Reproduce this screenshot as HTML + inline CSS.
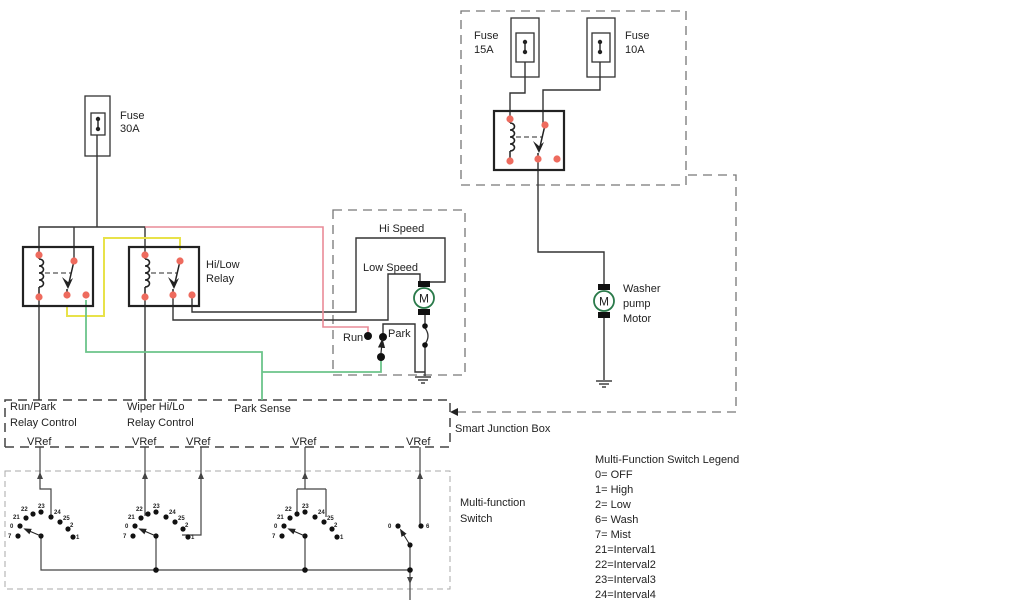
<!DOCTYPE html>
<html><head><style>
html,body{margin:0;padding:0;background:#fff;}
svg{display:block;font-family:"Liberation Sans",sans-serif;}
text{font-size:11px;fill:#222;}
</style></head><body>
<svg width="1024" height="600" viewBox="0 0 1024 600" xmlns="http://www.w3.org/2000/svg">
<defs>
<marker id="ar" markerWidth="8" markerHeight="8" refX="4" refY="4" orient="auto"><path d="M0,1 L8,4 L0,7z" fill="#222"/></marker>
<g id="relay">
<rect x="0" y="0" width="70" height="59" fill="none" stroke="#222" stroke-width="2.2"/>
<path d="M16,12 c6,0 6,7 0,7 c6,0 6,7 0,7 c6,0 6,7 0,7 c6,0 6,7 0,7" fill="none" stroke="#222" stroke-width="1.6"/>
<line x1="16" y1="8" x2="16" y2="12" stroke="#222" stroke-width="1.5"/>
<line x1="16" y1="40" x2="16" y2="50" stroke="#222" stroke-width="1.5"/>
<line x1="22" y1="26" x2="48" y2="26" stroke="#555" stroke-width="1.3" stroke-dasharray="5,3"/>
<line x1="51" y1="14" x2="45" y2="40" stroke="#222" stroke-width="1.5"/>
<path d="M39,30 L45,42 L50,31 L45,35z" fill="#222"/>
<line x1="44" y1="42" x2="44" y2="48" stroke="#222" stroke-width="1.5"/>
<circle cx="16" cy="8" r="3.6" fill="#ee6b5e"/><circle cx="16" cy="50" r="3.6" fill="#ee6b5e"/>
<circle cx="51" cy="14" r="3.6" fill="#ee6b5e"/><circle cx="44" cy="48" r="3.6" fill="#ee6b5e"/>
<circle cx="63" cy="48" r="3.6" fill="#ee6b5e"/>
</g>
<g id="fuse">
<line x1="0" y1="-5" x2="0" y2="5" stroke="#222" stroke-width="1.4"/>
<circle cx="0" cy="-5" r="2.2" fill="#222"/><circle cx="0" cy="5" r="2.2" fill="#222"/>
</g>
<g id="motor">
<rect x="-6" y="-17" width="12" height="6" fill="#111"/>
<rect x="-6" y="11" width="12" height="6" fill="#111"/>
<circle cx="0" cy="0" r="10" fill="#fff" stroke="#2a7a4a" stroke-width="1.8"/>
<text x="0" y="4.5" text-anchor="middle" style="font-size:12px">M</text>
</g>
<g id="msw" fill="#111">
<circle cx="-23" cy="0" r="2.6"/><circle cx="-21" cy="-10" r="2.6"/><circle cx="-15" cy="-18" r="2.6"/>
<circle cx="-8" cy="-22" r="2.6"/><circle cx="0" cy="-24" r="2.6"/><circle cx="10" cy="-19" r="2.6"/>
<circle cx="19" cy="-14" r="2.6"/><circle cx="27" cy="-7" r="2.6"/><circle cx="32" cy="1" r="2.6"/>
<circle cx="0" cy="0" r="2.6"/>
<line x1="0" y1="0" x2="-14" y2="-6" stroke="#222" stroke-width="1" marker-end="url(#ar)"/>
<g style="font-size:6px;font-weight:bold">
<text x="-33" y="2" style="font-size:6px">7</text><text x="-31" y="-8" style="font-size:6px">0</text>
<text x="-28" y="-17" style="font-size:6px">21</text><text x="-20" y="-25" style="font-size:6px">22</text>
<text x="-3" y="-28" style="font-size:6px">23</text><text x="13" y="-22" style="font-size:6px">24</text>
<text x="22" y="-16" style="font-size:6px">25</text><text x="29" y="-9" style="font-size:6px">2</text>
<text x="35" y="3" style="font-size:6px">1</text>
</g>
</g>
</defs>

<g fill="none" stroke="#777" stroke-width="1.3" stroke-dasharray="9,6">
<rect x="461" y="11" width="225" height="174"/>
<path d="M688,175 H736 V412 H456"/>
<rect x="333" y="210" width="132" height="165"/>
<path d="M5,447 V400 H450 V447 H5" stroke="#444" stroke-width="1.5"/>
</g>
<path d="M458,408 L450,412 L458,416z" fill="#222"/>
<rect x="5" y="471" width="445" height="118" fill="none" stroke="#aaa" stroke-width="1" stroke-dasharray="6,4"/>

<g fill="none" stroke="#333" stroke-width="1.3">
<rect x="85" y="96" width="25" height="60"/><rect x="91" y="113" width="14" height="22"/>
<rect x="511" y="18" width="28" height="59"/><rect x="516" y="33" width="18" height="29"/>
<rect x="587" y="18" width="28" height="59"/><rect x="592" y="33" width="18" height="29"/>
</g>
<use href="#fuse" x="98" y="124"/><use href="#fuse" x="525" y="47"/><use href="#fuse" x="600" y="47"/>

<g fill="none" stroke="#333" stroke-width="1.4">
<path d="M97,135 V227 M39,255 V227 H145 V255 M74,261 V227"/>
<path d="M39,297 V400 M145,297 V400"/>
<path d="M192,295 V312 H356 V238 H445 V282 H428"/>
<path d="M173,295 V320 H388 V274 H420 V282"/>
<path d="M425,310 V326 M425,345 V372 M383,337 V324 H415 V372 H425 M425,372 V376"/>
<path d="M525,62 V93 H510 V119 M600,62 V90 H543 V124 M538,158 V252 H604 V290 M604,312 V380"/>
</g>
<path d="M425,328 q6,8 0,16" fill="none" stroke="#333" stroke-width="1.3"/>
<g stroke="#333" stroke-width="1.4">
<line x1="415" y1="377" x2="431" y2="377"/><line x1="418" y1="380" x2="428" y2="380"/><line x1="421" y1="383" x2="425" y2="383"/>
<line x1="596" y1="381" x2="612" y2="381"/><line x1="599" y1="384" x2="609" y2="384"/><line x1="602" y1="387" x2="606" y2="387"/>
</g>
<path d="M67,306 V316 H104 V238 H180 V250" fill="none" stroke="#e8e24a" stroke-width="2"/>
<path d="M145,227 H323 V327 H368 V333" fill="none" stroke="#e98b97" stroke-width="1.6"/>
<path d="M86,300 V352 H262 V400 M262,372 H381 V360" fill="none" stroke="#6cc48a" stroke-width="1.8"/>

<use href="#relay" x="23" y="247"/><use href="#relay" x="129" y="247"/><use href="#relay" x="494" y="111"/>
<use href="#motor" x="424" y="298"/><use href="#motor" x="604" y="301"/>

<circle cx="368" cy="336" r="4" fill="#111"/><circle cx="383" cy="337" r="4" fill="#111"/><circle cx="381" cy="357" r="4" fill="#111"/>
<line x1="381" y1="353" x2="382" y2="343" stroke="#222" stroke-width="1.2" marker-end="url(#ar)"/>
<circle cx="425" cy="326" r="2.8" fill="#111"/><circle cx="425" cy="345" r="2.8" fill="#111"/>

<text x="120" y="119">Fuse</text><text x="120" y="132">30A</text>
<text x="474" y="39">Fuse</text><text x="474" y="53">15A</text>
<text x="625" y="39">Fuse</text><text x="625" y="53">10A</text>
<text x="206" y="268">Hi/Low</text><text x="206" y="282">Relay</text>
<text x="379" y="232">Hi Speed</text><text x="363" y="271">Low Speed</text>
<text x="343" y="341">Run</text><text x="388" y="337">Park</text>
<text x="623" y="292">Washer</text><text x="623" y="307">pump</text><text x="623" y="322">Motor</text>
<text x="10" y="410">Run/Park</text><text x="10" y="426">Relay Control</text>
<text x="127" y="410">Wiper Hi/Lo</text><text x="127" y="426">Relay Control</text>
<text x="234" y="412">Park Sense</text>
<text x="455" y="432">Smart Junction Box</text>
<text x="27" y="445">VRef</text><text x="132" y="445">VRef</text><text x="186" y="445">VRef</text>
<text x="292" y="445">VRef</text><text x="406" y="445">VRef</text>
<text x="460" y="506">Multi-function</text><text x="460" y="522">Switch</text>
<text x="595" y="463">Multi-Function Switch Legend</text>
<text x="595" y="478">0= OFF</text><text x="595" y="493">1= High</text><text x="595" y="508">2= Low</text>
<text x="595" y="523">6= Wash</text><text x="595" y="538">7= Mist</text><text x="595" y="553">21=Interval1</text>
<text x="595" y="568">22=Interval2</text><text x="595" y="583">23=Interval3</text><text x="595" y="598">24=Interval4</text>

<g fill="none" stroke="#444" stroke-width="1.2">
<path d="M40,447 V489 H51 V517 M145,447 V516 M201,447 V535 H182 M305,447 V489 M297,489 H326 M297,489 V514 M326,489 V517 M420,447 V526"/>
<path d="M41,536 V570 H410 M156,536 V570 M305,536 V570 M410,545 V600"/>
</g>
<g fill="#444">
<path d="M37,479 L40,472 L43,479z"/><path d="M142,479 L145,472 L148,479z"/><path d="M198,479 L201,472 L204,479z"/>
<path d="M302,479 L305,472 L308,479z"/><path d="M417,479 L420,472 L423,479z"/><path d="M407,577 L410,584 L413,577z"/>
</g>
<use href="#msw" x="41" y="536"/><use href="#msw" x="156" y="536"/><use href="#msw" x="305" y="536"/>
<g fill="#111">
<circle cx="156" cy="570" r="2.8"/><circle cx="305" cy="570" r="2.8"/><circle cx="410" cy="570" r="2.8"/>
<circle cx="398" cy="526" r="2.6"/><circle cx="421" cy="526" r="2.6"/><circle cx="410" cy="545" r="2.6"/>
</g>
<line x1="410" y1="545" x2="402" y2="532" stroke="#222" stroke-width="1" marker-end="url(#ar)"/>
<text x="388" y="528" style="font-size:6px;font-weight:bold">0</text><text x="426" y="528" style="font-size:6px;font-weight:bold">6</text>
</svg>
</body></html>
